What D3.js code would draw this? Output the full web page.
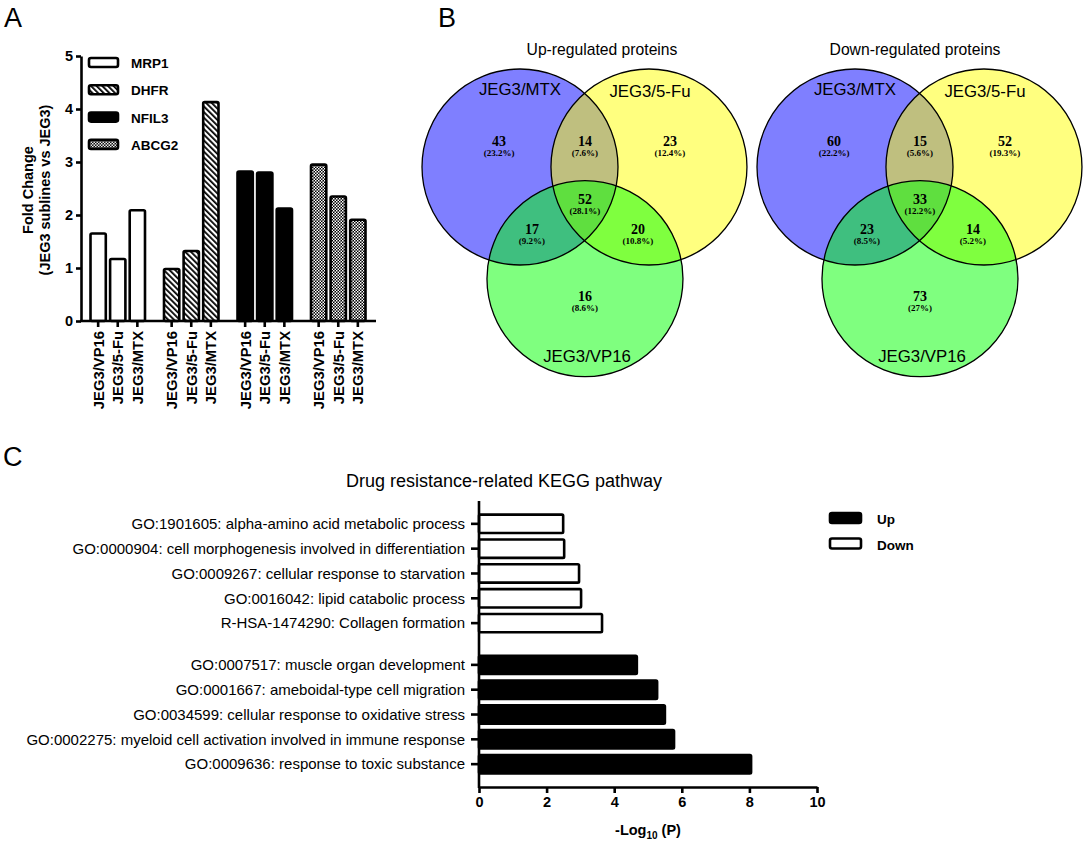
<!DOCTYPE html>
<html>
<head>
<meta charset="utf-8">
<script src="https://cdn.jsdelivr.net/npm/d3@7"></script>
<style>
  body { margin: 0; background: #fff; }
  text { font-family: Arial, "Liberation Sans", sans-serif; }
</style>
</head>
<body>
<div id="viz"></div>
<script>
// ---- panel A data ----
const genes = ["MRP1", "DHFR", "NFIL3", "ABCG2"]
const sublines = ["JEG3/VP16", "JEG3/5-Fu", "JEG3/MTX"]
const mrp1 = [1.65, 1.17, 2.09]
const dhfr = [0.98, 1.32, 4.13]
const nfil3 = [2.82, 2.80, 2.12]
const abcg2 = [2.95, 2.35, 1.91]
const foldTicks = [0, 1, 2, 3, 4, 5]

// ---- panel B data (regions: MTX, 5-Fu, VP16, MTX&5-Fu, MTX&VP16, 5-Fu&VP16, all) ----
const vennSets = ["JEG3/MTX", "JEG3/5-Fu", "JEG3/VP16"]
const upCounts = [43, 23, 16, 14, 17, 20, 52]
const upPct = ["23.2%", "12.4%", "8.6%", "7.6%", "9.2%", "10.8%", "28.1%"]
const downCounts = [60, 52, 73, 15, 23, 14, 33]
const downPct = ["22.2%", "19.3%", "27%", "5.6%", "8.5%", "5.2%", "12.2%"]

// ---- panel C data ----
const downTerms = ["GO:1901605: alpha-amino acid metabolic process",
                   "GO:0000904: cell morphogenesis involved in differentiation",
                   "GO:0009267: cellular response to starvation",
                   "GO:0016042: lipid catabolic process",
                   "R-HSA-1474290: Collagen formation"]
const downLogP = [2.49, 2.52, 2.96, 3.02, 3.64]
const upTerms = ["GO:0007517: muscle organ development",
                 "GO:0001667: ameboidal-type cell migration",
                 "GO:0034599: cellular response to oxidative stress",
                 "GO:0002275: myeloid cell activation involved in immune response",
                 "GO:0009636: response to toxic substance"]
const upLogP = [4.67, 5.27, 5.5, 5.77, 8.05]
const logTicks = [0, 2, 4, 6, 8, 10]

const svg = d3.select("#viz").append("svg").attr("width", 1084).attr("height", 841)
const serif = "'Liberation Serif', 'Times New Roman', serif"

// patterns for panel A
const defs = svg.append("defs")
const hatch = defs.append("pattern").attr("id", "hatch").attr("patternUnits", "userSpaceOnUse")
    .attr("width", 4).attr("height", 4).attr("patternTransform", "rotate(-45)")
hatch.append("rect").attr("width", 4).attr("height", 4).attr("fill", "#fff")
hatch.append("rect").attr("width", 1.8).attr("height", 4).attr("fill", "#000")
const check = defs.append("pattern").attr("id", "check").attr("patternUnits", "userSpaceOnUse")
    .attr("width", 3).attr("height", 3)
check.append("rect").attr("width", 3).attr("height", 3).attr("fill", "#000")
check.append("rect").attr("width", 1.5).attr("height", 1.5).attr("fill", "#fff")
check.append("rect").attr("x", 1.5).attr("y", 1.5).attr("width", 1.5).attr("height", 1.5).attr("fill", "#fff")

const geneFill = {MRP1: "#fff", DHFR: "url(#hatch)", NFIL3: "#000", ABCG2: "url(#check)"}

// panel letters
svg.append("text").attr("x", 4).attr("y", 27).attr("font-size", 27).text("A")
svg.append("text").attr("x", 438).attr("y", 27).attr("font-size", 27).text("B")
svg.append("text").attr("x", 3).attr("y", 466).attr("font-size", 27).text("C")

// ================= Panel A =================
const foldTable = []
const geneValues = [mrp1, dhfr, nfil3, abcg2]
genes.forEach((g, i) => sublines.forEach((s, j) => foldTable.push({gene: g, sub: s, value: geneValues[i][j]})))

const xGene = d3.scaleBand().domain(genes).range([81, 375]).paddingInner(0.2).paddingOuter(0.1)
const xSub = d3.scaleBand().domain(sublines).range([0, xGene.bandwidth()]).paddingInner(0.22).paddingOuter(0.11)
const yFold = d3.scaleLinear().domain([0, 5]).range([321, 56])

const panelA = svg.append("g")

panelA.selectAll("rect.bar")
    .data(foldTable)
    .join("rect")
    .attr("class", "bar")
    .attr("x", d => xGene(d.gene) + xSub(d.sub))
    .attr("y", d => yFold(d.value))
    .attr("width", xSub.bandwidth())
    .attr("height", d => yFold(0) - yFold(d.value))
    .attr("rx", 1.5)
    .attr("fill", d => geneFill[d.gene])
    .attr("stroke", "#000").attr("stroke-width", 2.6)

const yAxisA = panelA.append("g").attr("transform", "translate(81,0)")
    .call(d3.axisLeft(yFold).tickValues(foldTicks).tickFormat(d3.format("d"))
        .tickSize(5).tickPadding(3).tickSizeOuter(0))
yAxisA.select(".domain").attr("stroke-width", 2.6)
yAxisA.selectAll(".tick line").attr("stroke-width", 2.6)
yAxisA.selectAll(".tick text").attr("font-size", 14.5).attr("font-weight", "bold")

// x axis line + ticks at bar centres
panelA.append("line").attr("x1", 80).attr("x2", 376).attr("y1", yFold(0)).attr("y2", yFold(0))
    .attr("stroke", "#000").attr("stroke-width", 2.6)
const xTickA = panelA.selectAll("g.xt").data(foldTable).join("g").attr("class", "xt")
    .attr("transform", d => `translate(${xGene(d.gene) + xSub(d.sub) + xSub.bandwidth() / 2},${yFold(0)})`)
xTickA.append("line").attr("y2", 6).attr("stroke", "#000").attr("stroke-width", 2.6)
xTickA.append("text").attr("transform", "rotate(-90)").attr("x", -10).attr("y", 5.5)
    .attr("text-anchor", "end").attr("font-size", 14.8).attr("font-weight", "bold").text(d => d.sub)

panelA.append("text").attr("transform", "translate(33,190) rotate(-90)")
    .attr("text-anchor", "middle").attr("font-size", 14.5).attr("font-weight", "bold").text("Fold Change")
panelA.append("text").attr("transform", "translate(50,190) rotate(-90)")
    .attr("text-anchor", "middle").attr("font-size", 14.5).attr("font-weight", "bold").text("(JEG3 sublines vs JEG3)")

// legend A
const legA = panelA.selectAll("g.legA").data(genes).join("g").attr("class", "legA")
    .attr("transform", (d, i) => `translate(89,${58 + i * 27.3})`)
legA.append("rect").attr("width", 29).attr("height", 9).attr("rx", 2)
    .attr("fill", d => geneFill[d]).attr("stroke", "#000").attr("stroke-width", 2.6)
legA.append("text").attr("x", 42).attr("y", 10).attr("font-size", 13.5).attr("font-weight", "bold").text(d => d)

// ================= Panel B =================
// layout in circle-radius units relative to the JEG3/MTX circle centre
const vennUnit = d3.scaleLinear().domain([0, 1]).range([0, 98])
const circlePos = [[0, 0], [1.316, 0], [0.663, 1.14]]
const circleFill = ["#0000ff", "#ffff00", "#00ff00"]
const setLabelPos = [[0, -0.8], [1.326, -0.775], [0.684, 1.925]]
const regionPos = [[-0.214, -0.255], [1.53, -0.255], [0.663, 1.327], [0.663, -0.255],
                   [0.122, 0.643], [1.204, 0.643], [0.663, 0.337]]

function venn(cx, cy, title, titleX, counts, pcts) {
    const g = svg.append("g").attr("transform", `translate(${cx},${cy})`)
    g.append("text").attr("x", titleX).attr("y", -112).attr("text-anchor", "middle")
        .attr("font-size", 15.7).text(title)
    g.selectAll("circle.fill").data(circlePos).join("circle").attr("class", "fill")
        .attr("cx", d => vennUnit(d[0])).attr("cy", d => vennUnit(d[1])).attr("r", vennUnit(1))
        .attr("fill", (d, i) => circleFill[i]).attr("fill-opacity", 0.5)
    g.selectAll("circle.edge").data(circlePos).join("circle").attr("class", "edge")
        .attr("cx", d => vennUnit(d[0])).attr("cy", d => vennUnit(d[1])).attr("r", vennUnit(1))
        .attr("fill", "none").attr("stroke", "#000").attr("stroke-width", 1.3)
    g.selectAll("text.set").data(vennSets).join("text").attr("class", "set")
        .attr("x", (d, i) => vennUnit(setLabelPos[i][0])).attr("y", (d, i) => vennUnit(setLabelPos[i][1]) + 6)
        .attr("text-anchor", "middle").attr("font-size", 16.8).text(d => d)
    const r = g.selectAll("g.region").data(counts).join("g").attr("class", "region")
        .attr("transform", (d, i) => `translate(${vennUnit(regionPos[i][0])},${vennUnit(regionPos[i][1])})`)
    r.append("text").attr("text-anchor", "middle").attr("y", 4)
        .style("font-family", serif)
        .attr("font-weight", "bold").attr("font-size", 14).text(d => d)
    r.append("text").attr("text-anchor", "middle").attr("y", 13.5)
        .style("font-family", serif)
        .attr("font-weight", "bold").attr("font-size", 9).text((d, i) => `(${pcts[i]})`)
}
venn(520, 167, "Up-regulated proteins", 82, upCounts, upPct)
venn(855, 167, "Down-regulated proteins", 60, downCounts, downPct)

// ================= Panel C =================
const panelC = svg.append("g")
panelC.append("text").attr("x", 504).attr("y", 487).attr("text-anchor", "middle")
    .attr("font-size", 18).text("Drug resistance-related KEGG pathway")

const pathTable = downTerms.map((t, i) => ({group: "Down", idx: i, term: t, value: downLogP[i]}))
    .concat(upTerms.map((t, i) => ({group: "Up", idx: i, term: t, value: upLogP[i]})))

const yGroup = d3.scaleBand().domain(["Down", "Up"]).range([501, 787]).paddingInner(0.12).paddingOuter(0.074)
const yRow = d3.scaleBand().domain(d3.range(5)).range([0, yGroup.bandwidth()]).paddingInner(0.26).paddingOuter(0.13)
const xLog = d3.scaleLinear().domain([0, 10]).range([479, 817])

panelC.selectAll("rect.pbar").data(pathTable).join("rect").attr("class", "pbar")
    .attr("x", xLog(0))
    .attr("y", d => yGroup(d.group) + yRow(d.idx))
    .attr("width", d => xLog(d.value) - xLog(0))
    .attr("height", yRow.bandwidth())
    .attr("rx", 1.2)
    .attr("fill", d => d.group === "Up" ? "#000" : "#fff")
    .attr("stroke", "#000").attr("stroke-width", 2.6)

// y axis
panelC.append("line").attr("x1", xLog(0)).attr("x2", xLog(0)).attr("y1", 501).attr("y2", 788)
    .attr("stroke", "#000").attr("stroke-width", 2.6)
const yTickC = panelC.selectAll("g.yt").data(pathTable).join("g").attr("class", "yt")
    .attr("transform", d => `translate(${xLog(0)},${yGroup(d.group) + yRow(d.idx) + yRow.bandwidth() / 2})`)
yTickC.append("line").attr("x2", -8).attr("stroke", "#000").attr("stroke-width", 2.6)
yTickC.append("text").attr("x", -14).attr("dy", "0.35em").attr("text-anchor", "end")
    .attr("font-size", 15).text(d => d.term)

// x axis
const xAxisC = panelC.append("g").attr("transform", "translate(0,787)")
    .call(d3.axisBottom(xLog).tickValues(logTicks).tickSize(6).tickPadding(4).tickSizeOuter(0))
xAxisC.select(".domain").attr("stroke-width", 2.6)
xAxisC.selectAll(".tick line").attr("stroke-width", 2.6)
xAxisC.selectAll(".tick text").attr("font-size", 14.5).attr("font-weight", "bold")

const xTitle = panelC.append("text").attr("x", 648).attr("y", 835).attr("text-anchor", "middle")
    .attr("font-size", 14.5).attr("font-weight", "bold")
xTitle.append("tspan").text("-Log")
xTitle.append("tspan").attr("font-size", 10).attr("dy", 4).text("10")
xTitle.append("tspan").attr("dy", -4).text(" (P)")

// legend C
const legC = panelC.selectAll("g.legC").data(["Up", "Down"]).join("g").attr("class", "legC")
    .attr("transform", (d, i) => `translate(830,${513 + i * 25.5})`)
legC.append("rect").attr("width", 31).attr("height", 10).attr("rx", 2)
    .attr("fill", d => d === "Up" ? "#000" : "#fff").attr("stroke", "#000").attr("stroke-width", 2.6)
legC.append("text").attr("x", 47).attr("y", 11).attr("font-size", 13.5).attr("font-weight", "bold").text(d => d)
</script>
</body>
</html>
